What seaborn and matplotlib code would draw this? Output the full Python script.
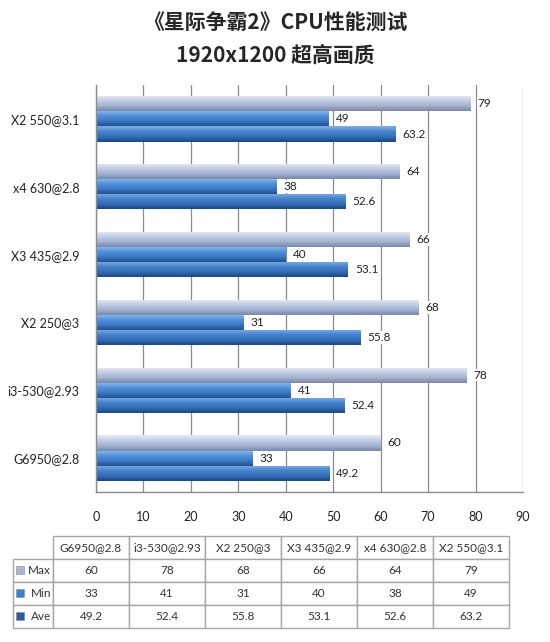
import numpy as np
import pandas as pd
import matplotlib
matplotlib.use('Agg')
import matplotlib.pyplot as plt
import seaborn as sns
from matplotlib.colors import LinearSegmentedColormap
from matplotlib.patches import Rectangle
from matplotlib.table import Table

# data (table order = bottom-to-top in the chart)
cpus = ['G6950@2.8', 'i3-530@2.93', 'X2 250@3', 'X3 435@2.9', 'x4 630@2.8', 'X2 550@3.1']
max_fps = [60, 78, 68, 66, 64, 79]
min_fps = [33, 41, 31, 40, 38, 49]
ave_fps = [49.2, 52.4, 55.8, 53.1, 52.6, 63.2]
series = ['Max', 'Min', 'Ave']
x_ticks = [0, 10, 20, 30, 40, 50, 60, 70, 80, 90]

df = pd.DataFrame({
    'cpu': cpus * 3,
    'series': ['Max'] * 6 + ['Min'] * 6 + ['Ave'] * 6,
    'fps': max_fps + min_fps + ave_fps,
})

sns.set_style('white')
plt.rcParams['font.family'] = ['Lato', 'Noto Sans CJK SC', 'DejaVu Sans']

# gradient colours per series (top -> bottom of each bar)
grad = {
    'Max': ['#e6ecf6', '#c2cee4', '#a3b2cf', '#7888a8'],
    'Min': ['#8cbdee', '#5393db', '#3b79c6', '#22508d'],
    'Ave': ['#80b0e5', '#4884ce', '#336eb9', '#1d4883'],
}
icon_col = {'Max': '#a9b8d3', 'Min': '#3f80d0', 'Ave': '#2c5c9c'}

fig = plt.figure(figsize=(5.5, 6.42), dpi=100)
ax = fig.add_axes([96 / 550, 1 - 492 / 642, 427 / 550, 407 / 642])

sns.barplot(data=df, y='cpu', x='fps', hue='series', order=cpus[::-1],
            hue_order=series, width=0.67, gap=0, dodge=True, legend=False,
            palette=[icon_col[s] for s in series], saturation=1,
            edgecolor='none', ax=ax)

ax.set_xlim(0, 90)
xl, yl = ax.get_xlim(), ax.get_ylim()

# paint a vertical gradient inside every bar
for cont, s in zip(ax.containers, series):
    cmap = LinearSegmentedColormap.from_list(s, grad[s])
    g = np.linspace(0, 1, 64).reshape(-1, 1)
    for p in cont:
        x0, y0 = p.get_x(), p.get_y()
        w, h = p.get_width(), p.get_height()
        im = ax.imshow(g, cmap=cmap, aspect='auto', interpolation='bilinear',
                       extent=[x0, x0 + w, y0 + h, y0], zorder=p.get_zorder())
        im.set_clip_path(p)
    labels = [f'{v:g}' for v in cont.datavalues]
    ax.bar_label(cont, labels=labels, padding=5, fontsize=8.5, color='#222222',
                 bbox=dict(fc='white', ec='none', pad=0.6))

ax.set_xlim(xl)
ax.set_ylim(yl)

ax.set_xticks(x_ticks)
ax.xaxis.grid(True, color='#8c8c8c', linewidth=0.9)
ax.set_axisbelow(True)
ax.tick_params(axis='x', length=0, pad=14, labelsize=9, colors='#222222')
ax.tick_params(axis='y', length=0, pad=12, labelsize=9, colors='#222222')
ax.set_xlabel('')
ax.set_ylabel('')
for side in ['top', 'right']:
    ax.spines[side].set_visible(False)
for side in ['left', 'bottom']:
    ax.spines[side].set_color('#8c8c8c')
    ax.spines[side].set_linewidth(1.0)

# title
fig.text(0.5, 1 - 22 / 642, '《星际争霸2》CPU性能测试', ha='center', va='center',
         fontsize=15, fontweight='bold', family=['Noto Sans CJK SC', 'DejaVu Sans'])
fig.text(0.5, 1 - 55 / 642, '1920x1200 超高画质', ha='center', va='center',
         fontsize=15, fontweight='bold', family=['Noto Sans CJK SC', 'DejaVu Sans'])

# data table
ax_t = fig.add_axes([13 / 550, 1 - 628 / 642, 496 / 550, 92 / 642])
ax_t.axis('off')
tbl = Table(ax_t, bbox=[0, 0, 1, 1])
col_w = [40 / 496] + [76 / 496] * len(cpus)
row_h = 0.25
ec = '#a6a6a6'
c0 = tbl.add_cell(0, 0, col_w[0], row_h, text='', facecolor='white', edgecolor='white')
c0.visible_edges = ''
for j, name in enumerate(cpus):
    tbl.add_cell(0, j + 1, col_w[j + 1], row_h, text=name, loc='center',
                 facecolor='white', edgecolor=ec)
values = {'Max': max_fps, 'Min': min_fps, 'Ave': ave_fps}
for i, s in enumerate(series):
    tbl.add_cell(i + 1, 0, col_w[0], row_h, text=s, loc='right',
                 facecolor='white', edgecolor=ec)
    for j, v in enumerate(values[s]):
        tbl.add_cell(i + 1, j + 1, col_w[j + 1], row_h, text=f'{v:g}', loc='center',
                     facecolor='white', edgecolor=ec)
tbl.auto_set_font_size(False)
tbl.set_fontsize(8.5)
for cell in tbl.get_celld().values():
    cell.get_text().set_color('#333333')
    cell.PAD = 0.05
ax_t.add_table(tbl)

# small legend keys in the row header cells
for i, s in enumerate(series):
    yc = 1 - (i + 1.5) * row_h
    ax_t.add_patch(Rectangle((0.007, yc - 0.035), 0.016, 0.08,
                             facecolor=icon_col[s], edgecolor='#7a8aa8',
                             linewidth=0.4, transform=ax_t.transAxes, zorder=5))

fig.savefig('out.png', dpi=100)
